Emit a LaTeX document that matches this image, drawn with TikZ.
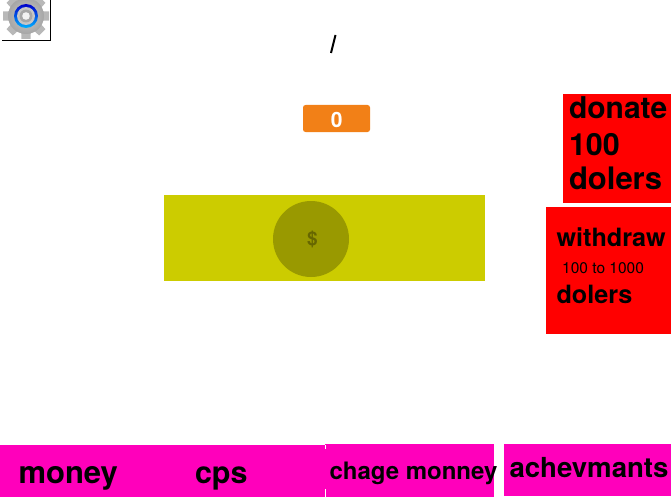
\documentclass[tikz,border=0pt]{standalone}
\usepackage{fontspec}
\setmainfont{TeX Gyre Heros}
\definecolor{pinkbar}{HTML}{FF00BB}
\definecolor{coinbar}{HTML}{CCCC00}
\definecolor{coin}{HTML}{999900}
\definecolor{coindark}{HTML}{666600}
\definecolor{orangeb}{HTML}{F28017}
\definecolor{gearmid}{HTML}{B8B8B8}
\tikzset{
  box/.style={draw=none,rectangle,inner sep=0pt,outer sep=0pt},
  lbl/.style={anchor=base west,inner sep=0pt,outer sep=0pt,text=black,font=\bfseries\fontsize{#1}{#1}\selectfont},
  tooth/.style={fill=gearmid,draw=none},
}
\begin{document}
\begin{tikzpicture}[x=1pt,y=-1pt]
\useasboundingbox (0,0) rectangle (671,500);
% settings icon
\begin{scope}
\clip (0,0) rectangle (671,500);
\foreach \a in {0,45,...,315}{
  \fill[tooth,rotate around={\a:(26,16)}] (20.5,16) -- (21.5,-7) -- (30.5,-7) -- (31.5,16) -- cycle;
}
\shade[inner color=gearmid!70!white,outer color=gearmid!90!black] (26,16) circle[radius=18];
\shade[top color=blue!80!black,bottom color=cyan!70!blue] (26,16) circle[radius=12];
\fill[gray!45] (26,16) circle[radius=9];
\fill[gray!70] (26,16) circle[radius=6.5];
\fill[white!90!gray] (26,16) circle[radius=3.8];
\draw[black,line width=0.9pt] (2,40.5) -- (50.5,40.5) -- (50.5,0);
\end{scope}
% slash
\coordinate (s1) at (335.5,35);
\coordinate (s2) at (331,53);
\draw[black,line width=2pt] (s1) -- (s2);
% orange counter
\node[box,fill=orangeb,rounded corners=2.5pt,minimum width=67pt,minimum height=27pt] (counter) at (336.5,118.5) {};
\node[inner sep=0pt,text=white,font=\bfseries\fontsize{21}{21}\selectfont] (counterval) at (336.8,119.5) {0};
% coin panel
\node[box,fill=coinbar,minimum width=321pt,minimum height=86pt] (panel) at (324.5,238) {};
\node[circle,fill=coin,inner sep=0pt,minimum size=76pt] (coinc) at (311,239) {};
\node[inner sep=0pt,text=coindark,font=\bfseries\fontsize{19}{19}\selectfont] (dollar) at (312.5,239) {\$};
% red buttons
\node[box,fill=red,minimum width=108pt,minimum height=109pt] (donate) at (617,148.5) {};
\node[box,fill=red,minimum width=125pt,minimum height=127pt] (withdraw) at (608.5,270.5) {};
\path (569,118.5) node[lbl=30] (t1) {donate};
\path (569,155) node[lbl=30.5] (t2) {100};
\path (569,189.5) node[lbl=31] (t3) {dolers};
\path (556.5,246.5) node[lbl=25.2] (t4) {withdraw};
\path (562,273) node[anchor=base west,inner sep=0pt,text=black,font=\fontsize{15.5}{15.5}\selectfont] (t5) {100 to 1000};
\path (556.5,303) node[lbl=25.2] (t6) {dolers};
% bottom bars
\node[box,fill=pinkbar,minimum width=326pt,minimum height=52pt] (bar1) at (163,471) {};
\node[box,fill=pinkbar,minimum width=169pt,minimum height=53pt] (bar2) at (409.5,470.5) {};
\node[box,fill=pinkbar,minimum width=167pt,minimum height=52pt] (bar3) at (587.5,470) {};
\fill[white] (324.8,445) rectangle (325.6,449);
\fill[white] (324.8,489) rectangle (325.6,497);
\path (18.5,483) node[lbl=31] (b1) {money};
\path (195,483) node[lbl=30.5] (b2) {cps};
\path (329.5,479) node[lbl=24] (b3) {chage monney};
\path (509.5,477) node[lbl=27.6] (b4) {achevmants};
\end{tikzpicture}
\end{document}
